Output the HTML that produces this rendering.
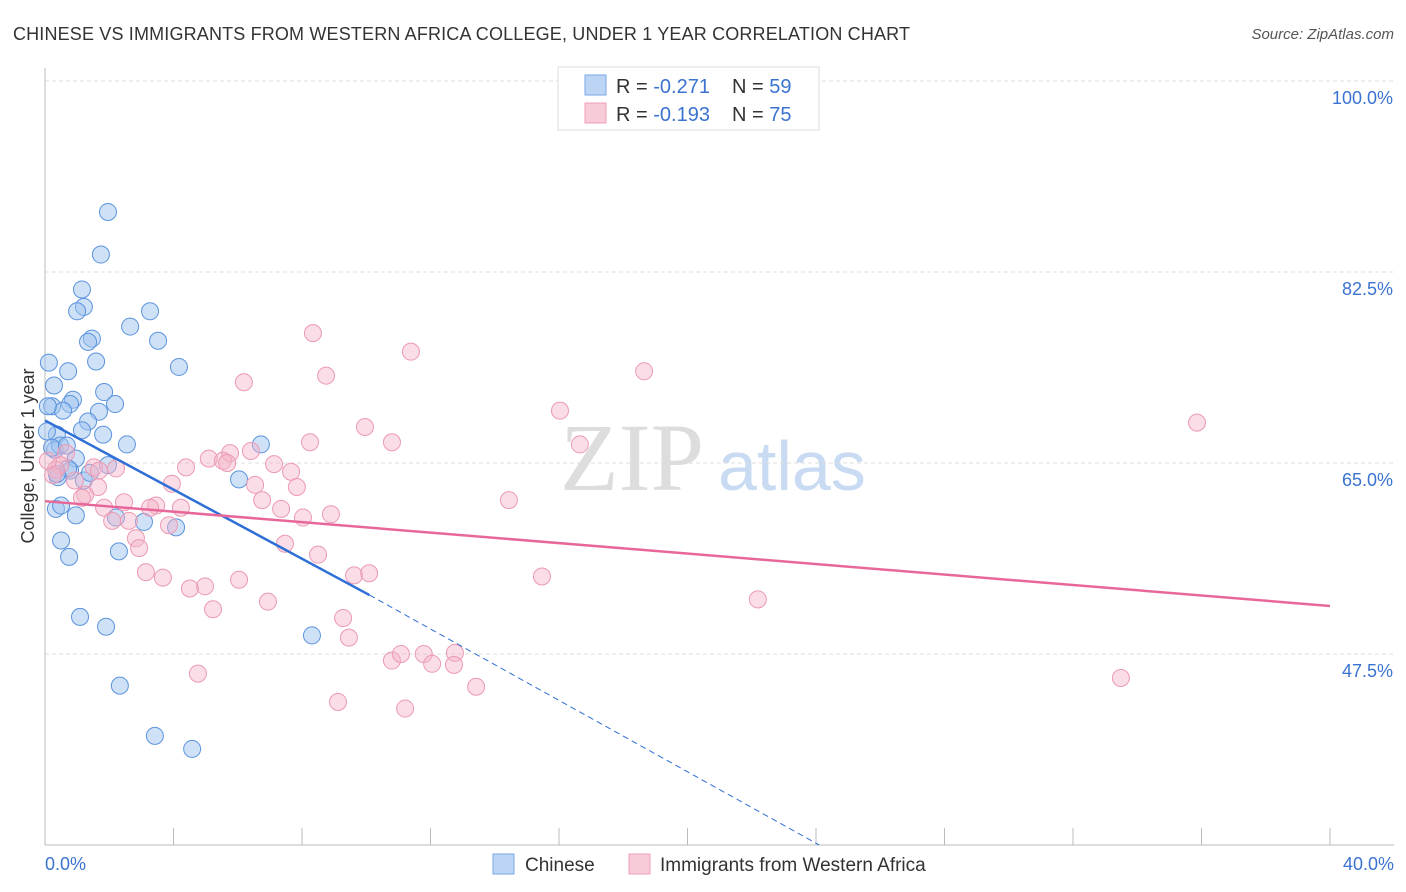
<!DOCTYPE html>
<html><head><meta charset="utf-8">
<style>
body{margin:0;background:#fff;font-family:"Liberation Sans",sans-serif;}
svg{display:block}
</style></head>
<body>
<svg id="chart" width="1406" height="892">
<text x="13" y="40" font-size="18" fill="#333" textLength="897" lengthAdjust="spacing">CHINESE VS IMMIGRANTS FROM WESTERN AFRICA COLLEGE, UNDER 1 YEAR CORRELATION CHART</text>
<text x="1394" y="39" font-size="15" fill="#555" text-anchor="end" font-style="italic">Source: ZipAtlas.com</text>
<text x="560" y="490" font-size="96" fill="#ddd" font-family="Liberation Serif,serif">ZIP</text>
<text x="718" y="490" font-size="70" fill="#c9dbf2">atlas</text>
<g id="grid"></g>
<g id="axes"></g>
<g id="pts"></g>
<g id="trend"></g>
<text transform="translate(34,456) rotate(-90)" font-size="18" fill="#333" text-anchor="middle">College, Under 1 year</text>
<text x="45" y="870" font-size="18" fill="#3b73d1">0.0%</text>
<text x="1394" y="870" font-size="18" fill="#3b73d1" text-anchor="end">40.0%</text>
<g>
<rect x="558" y="67" width="261" height="63" fill="#fff" stroke="#ddd"/>
<rect x="585" y="75" width="21" height="20" fill="#bcd5f5" stroke="#7aa6e6"/>
<rect x="585" y="103" width="21" height="20" fill="#f8cbd8" stroke="#ef9fb7"/>
<text x="616" y="93" font-size="20" fill="#333">R = <tspan fill="#3b73d1">-0.271</tspan></text>
<text x="732" y="93" font-size="20" fill="#333">N = <tspan fill="#3b73d1">59</tspan></text>
<text x="616" y="121" font-size="20" fill="#333">R = <tspan fill="#3b73d1">-0.193</tspan></text>
<text x="732" y="121" font-size="20" fill="#333">N = <tspan fill="#3b73d1">75</tspan></text>
</g>
<g>
<rect x="493" y="854" width="21" height="20" fill="#bcd5f5" stroke="#7aa6e6"/>
<text x="525" y="871" font-size="19" fill="#333">Chinese</text>
<rect x="629" y="854" width="21" height="20" fill="#f8cbd8" stroke="#ef9fb7"/>
<text x="660" y="871" font-size="19" fill="#333">Immigrants from Western Africa</text>
</g>
</svg>
<script>
const yTicks=[100,82.5,65,47.5];
const yTickLabels=["100.0%","82.5%","65.0%","47.5%"];
const xTicks=[0,4,8,12,16,20,24,28,32,36,40];
const chineseX=[1.96,1.74,1.15,1.21,1.0,3.27,2.65,1.46,1.34,3.52,1.59,4.17,0.12,0.72,0.28,1.84,2.18,0.87,0.78,0.22,1.68,0.56,1.34,0.37,1.15,1.81,2.55,0.31,0.47,0.96,1.96,0.78,0.72,6.72,6.04,0.40,1.21,0.34,0.50,2.21,3.08,0.96,4.08,0.50,2.30,0.75,1.09,1.9,8.31,2.33,3.42,4.58,0.09,0.06,0.22,0.68,0.37,1.4];
const chineseY=[88.0,84.1,80.9,79.3,78.9,78.9,77.5,76.4,76.1,76.2,74.3,73.8,74.2,73.4,72.1,71.5,70.4,70.8,70.4,70.2,69.7,69.8,68.8,67.6,68.0,67.6,66.7,66.2,66.6,65.4,64.8,64.3,64.5,66.7,63.5,63.7,63.4,60.8,61.1,60.0,59.6,60.2,59.1,57.9,56.9,56.4,50.9,50.0,49.2,44.6,40.0,38.8,70.2,67.9,66.4,66.6,64.0,64.1];
const immX=[8.34,11.39,6.19,8.75,18.65,16.03,35.86,9.96,10.80,8.25,16.65,6.41,5.76,5.10,5.54,5.67,4.39,7.13,7.66,3.95,7.84,6.76,6.54,14.44,2.46,3.46,1.84,4.23,3.27,7.35,8.90,8.03,2.09,2.61,3.86,2.83,2.93,7.47,8.50,9.62,10.09,15.47,3.14,3.67,6.04,4.98,4.51,6.94,5.23,22.19,9.28,9.46,10.80,11.08,11.79,12.05,12.76,12.73,4.76,13.42,9.12,11.21,33.49,0.65,0.47,0.34,0.25,0.93,1.25,1.65,1.52,1.15,1.68,2.21,0.09];
const immY=[76.9,75.2,72.4,73.0,73.4,69.8,68.7,68.3,66.9,66.9,66.7,66.1,65.9,65.4,65.2,65.0,64.6,64.9,64.2,63.1,62.8,61.6,63.0,61.6,61.4,61.1,60.9,60.9,60.9,60.8,60.3,60.0,59.7,59.7,59.3,58.1,57.2,57.6,56.6,54.7,54.9,54.6,55.0,54.5,54.3,53.7,53.5,52.3,51.6,52.5,50.8,49.0,46.9,47.5,47.5,46.6,47.6,46.5,45.7,44.5,43.1,42.5,45.3,65.9,64.8,64.4,63.9,63.4,62.1,62.8,64.6,61.8,64.3,64.5,65.2];
const chineseTrend=[[0,68.9],[10.1,52.9]];
const chineseTrendExt=[[10.1,52.9],[24.1,30.0]];
const immTrend=[[0,61.5],[40,51.9]];
const NS='http://www.w3.org/2000/svg';
const X=v=>45+v*32.125;
const Y=v=>81+(100-v)*10.914;
function mk(tag,attrs,parent){const e=document.createElementNS(NS,tag);for(const k in attrs)e.setAttribute(k,attrs[k]);parent.appendChild(e);return e;}
const grid=document.getElementById('grid'),axes=document.getElementById('axes'),pts=document.getElementById('pts'),tr=document.getElementById('trend');
yTicks.forEach((t,i)=>{
 const l=mk('line',{x1:45,x2:1394,y1:Y(t),y2:Y(t),stroke:'#ddd','stroke-dasharray':'4,3'},grid);
 
 
 const tx=mk('text',{x:1393,y:Y(t)+23,'font-size':18,fill:'#3b73d1','text-anchor':'end'},grid);
 tx.textContent=yTickLabels[i];
 
 
});
const ax=mk('line',{x1:45,x2:1394,y1:845,y2:845,stroke:'#bbb'},axes);


const ay=mk('line',{x1:45,x2:45,y1:68,y2:845,stroke:'#bbb'},axes);


xTicks.forEach(t=>{
 const l=mk('line',{x1:X(t),x2:X(t),y1:828,y2:845,stroke:'#bbb'},axes);
 
 
});
chineseX.forEach((v,i)=>{
 const c=mk('circle',{cx:X(v),cy:Y(chineseY[i]),r:8.5,fill:'rgba(160,196,240,0.5)',stroke:'#5b93dd','stroke-width':1},pts);
 
 
});
immX.forEach((v,i)=>{
 const c=mk('circle',{cx:X(v),cy:Y(immY[i]),r:8.5,fill:'rgba(245,180,200,0.45)',stroke:'#ec9ab4','stroke-width':1},pts);
 
 
});
const l1=mk('line',{x1:X(chineseTrend[0][0]),y1:Y(chineseTrend[0][1]),x2:X(chineseTrend[1][0]),y2:Y(chineseTrend[1][1]),stroke:'#2f6fd6','stroke-width':2.5},tr);


const l2=mk('line',{x1:X(chineseTrendExt[0][0]),y1:Y(chineseTrendExt[0][1]),x2:X(chineseTrendExt[1][0]),y2:Y(chineseTrendExt[1][1]),stroke:'#2f6fd6','stroke-width':1,'stroke-dasharray':'6,4'},tr);


const l3=mk('line',{x1:X(immTrend[0][0]),y1:Y(immTrend[0][1]),x2:X(immTrend[1][0]),y2:Y(immTrend[1][1]),stroke:'#e8679a','stroke-width':2.5},tr);


</script>
</body></html>
